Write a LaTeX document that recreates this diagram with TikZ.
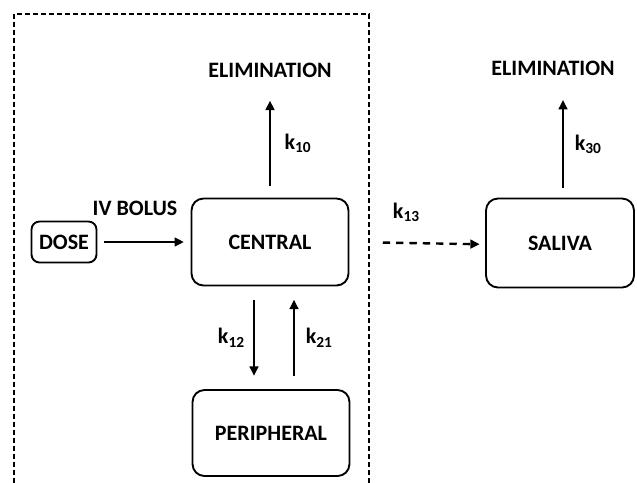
\documentclass[tikz,border=0pt]{standalone}
\usepackage{fontspec}
\setmainfont{Carlito}
\usepackage{tikz}
\usetikzlibrary{positioning,arrows.meta}

\begin{document}
\begin{tikzpicture}[x=0.75pt,y=-0.75pt,
  font=\fontsize{16.5}{19}\selectfont\bfseries,
  comp/.style={draw,line width=1.4pt,rounded corners=9pt,align=center},
  flow/.style={line width=1.8pt,-{Triangle[length=7pt,width=6.5pt]}},
  lbl/.style={inner sep=1pt}]
\useasboundingbox (0,0) rectangle (637,483);
% dashed frame round the plasma part
\draw[line width=0.9pt,dash pattern=on 3.5pt off 2.5pt] (14,483) -- (14,14) -- (369,14) -- (369,483);

\node[comp,minimum width=48.75pt,minimum height=30.75pt,rounded corners=6pt] (dose) at (64,242) {DOSE};
\node[comp,minimum width=117.75pt,minimum height=65.25pt] (central) at (270,242) {CENTRAL};
\node[comp,minimum width=117.75pt,minimum height=64.5pt] (periph) at (271,433) {PERIPHERAL};
\node[comp,minimum width=111pt,minimum height=66.75pt] (saliva) at (560,243) {SALIVA};
\node (elim1) at (270,70) {ELIMINATION};
\node (elim2) at (553,68) {ELIMINATION};
\node (bolus) at (135,208) {IV BOLUS};

\draw[flow,shorten <=5pt,shorten >=5pt] (dose) -- (central);
\draw[flow] ([yshift=9pt]central.north) -- ([yshift=-14pt]elim1.south -| central.north)
  node[lbl,midway,right=9pt] {k\textsubscript{10}};
\draw[flow] ([xshift=-12pt,yshift=-10pt]central.south) -- ([xshift=-12pt,yshift=10pt]periph.north -| central.south)
  node[lbl,midway,left=5pt] {k\textsubscript{12}};
\draw[flow] ([xshift=18pt,yshift=10pt]periph.north -| central.south) -- ([xshift=18pt,yshift=-10pt]central.south)
  node[lbl,midway,right=7pt] {k\textsubscript{21}};
\draw[flow,dash pattern=on 5.5pt off 4.5pt,shorten <=25pt,shorten >=4pt] (central.east) -- ([yshift=-1pt]saliva.west)
  node[lbl,pos=0.42,above=14pt] {k\textsubscript{13}};
\draw[flow] ([xshift=2.25pt,yshift=7pt]saliva.north) -- ([xshift=2.25pt,yshift=-15pt]elim2.south -| saliva.north)
  node[lbl,midway,right=7pt] {k\textsubscript{30}};
\end{tikzpicture}
\end{document}
